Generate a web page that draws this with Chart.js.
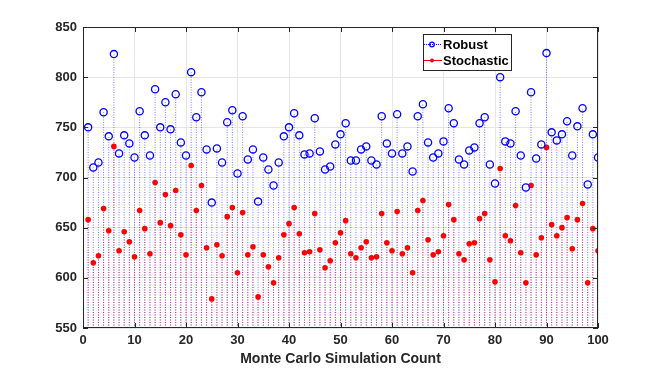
<!DOCTYPE html>
<html>
<head>
<meta charset="utf-8">
<script src="https://cdn.jsdelivr.net/npm/chart.js@4"></script>
<style>
  html, body { margin: 0; padding: 0; background: #fff; }
  #wrap { width: 654px; height: 373px; }
</style>
</head>
<body>
<div id="wrap"><canvas id="stemChart" width="654" height="373"></canvas></div>
<script>
"use strict"

// simulation runs 1..100
const runs = Array.from({ length: 100 }, (_, i) => i + 1);

const robust = [
  750, 710, 715, 765, 741, 823, 724, 742, 734, 720,
  766, 742, 722, 788, 750, 775, 748, 783, 735, 722,
  805, 760, 785, 728, 675, 729, 715, 755, 767, 704,
  761, 718, 728, 676, 720, 708, 692, 715, 741, 750,
  764, 742, 723, 724, 759, 726, 708, 711, 733, 743,
  754, 717, 717, 728, 731, 717, 713, 761, 734, 724,
  763, 724, 731, 706, 761, 773, 735, 720, 724, 736,
  769, 754, 718, 713, 727, 730, 754, 760, 713, 694,
  800, 736, 734, 766, 722, 690, 785, 719, 733, 824,
  745, 737, 743, 756, 722, 751, 769, 693, 743, 720
];

const stochastic = [
  658, 615, 622, 669, 647, 731, 627, 646, 636, 621,
  667, 649, 624, 695, 655, 683, 652, 687, 643, 623,
  712, 667, 692, 630, 579, 633, 622, 661, 670, 605,
  665, 623, 631, 581, 623, 611, 595, 620, 643, 654,
  670, 644, 625, 626, 664, 628, 610, 617, 635, 645,
  657, 624, 620, 630, 636, 620, 621, 664, 635, 627,
  666, 624, 630, 605, 667, 677, 638, 623, 626, 642,
  673, 658, 624, 618, 634, 635, 659, 664, 618, 596,
  709, 642, 637, 672, 625, 595, 692, 623, 640, 730,
  653, 642, 650, 660, 629, 658, 674, 595, 649, 627
];

const yTicks = [550, 600, 650, 700, 750, 800, 850];
const xTicks = [0, 10, 20, 30, 40, 50, 60, 70, 80, 90, 100];
const baseValue = 550;

const BLUE = '#0000ff';
const RED = '#ff0000';
const FONT = '"Liberation Sans", Arial, sans-serif';

// stems: base -> value, then a gap
function stemData(values) {
  const out = [];
  values.forEach((v, i) => {
    out.push({ x: runs[i], y: baseValue });
    out.push({ x: runs[i], y: v });
    out.push({ x: runs[i], y: null });
  });
  return out;
}

function pointData(values) {
  return values.map((v, i) => ({ x: runs[i], y: v }));
}

// frame, inward ticks and legend box
const framePlugin = {
  id: 'frame',
  afterDraw(chart) {
    const { ctx, chartArea: a, scales } = chart;
    ctx.save();
    ctx.strokeStyle = '#262626';
    ctx.lineWidth = 1;
    ctx.strokeRect(a.left + 0.5, a.top + 0.5, a.right - a.left - 1, a.bottom - a.top - 1);
    ctx.beginPath();
    xTicks.forEach(t => {
      const px = Math.round(scales.x.getPixelForValue(t)) + 0.5;
      ctx.moveTo(px, a.bottom); ctx.lineTo(px, a.bottom - 5);
      ctx.moveTo(px, a.top); ctx.lineTo(px, a.top + 5);
    });
    yTicks.forEach(t => {
      const py = Math.round(scales.y.getPixelForValue(t)) + 0.5;
      ctx.moveTo(a.left, py); ctx.lineTo(a.left + 5, py);
      ctx.moveTo(a.right, py); ctx.lineTo(a.right - 5, py);
    });
    ctx.stroke();

    // legend
    const bx = 423, by = 34, bw = 88, bh = 36;
    ctx.fillStyle = '#fff';
    ctx.fillRect(bx, by, bw, bh);
    ctx.strokeStyle = '#262626';
    ctx.strokeRect(bx + 0.5, by + 0.5, bw, bh);

    ctx.font = 'bold 13px ' + FONT;
    ctx.textBaseline = 'middle';
    ctx.fillStyle = '#000';

    let y = by + 10.5;
    ctx.strokeStyle = BLUE;
    ctx.setLineDash([1, 1]);
    ctx.beginPath(); ctx.moveTo(bx + 1, y); ctx.lineTo(bx + 19, y); ctx.stroke();
    ctx.setLineDash([]);
    ctx.lineWidth = 1.3;
    ctx.beginPath(); ctx.arc(bx + 9, y, 2.3, 0, Math.PI * 2); ctx.stroke();
    ctx.fillText('Robust', bx + 20, y + 0.5);

    y = by + 26.5;
    ctx.lineWidth = 1;
    ctx.strokeStyle = RED;
    ctx.beginPath(); ctx.moveTo(bx + 1, y); ctx.lineTo(bx + 19, y); ctx.stroke();
    ctx.fillStyle = RED;
    ctx.beginPath(); ctx.arc(bx + 9, y, 2, 0, Math.PI * 2); ctx.fill();
    ctx.fillStyle = '#000';
    ctx.fillText('Stochastic', bx + 20, y + 0.5);
    ctx.restore();
  }
};

document.addEventListener("DOMContentLoaded", () => {
  drawStemChart();
});

function drawStemChart() {
  const options = {
    type: 'scatter',
    data: {
      datasets: [
        {
          label: 'Robust',
          data: pointData(robust),
          showLine: false,
          pointStyle: 'circle',
          pointRadius: 3.6,
          pointBorderWidth: 1.3,
          pointBorderColor: BLUE,
          pointBackgroundColor: 'rgba(0,0,0,0)'
        },
        {
          label: 'Stochastic',
          data: pointData(stochastic),
          showLine: false,
          pointStyle: 'circle',
          pointRadius: 2.8,
          pointBorderWidth: 0,
          pointBackgroundColor: RED
        },
        {
          label: 'stochastic stems',
          type: 'line',
          data: stemData(stochastic),
          borderColor: 'rgba(230,0,60,0.6)',
          borderWidth: 1,
          borderDash: [1, 1.5],
          pointRadius: 0,
          spanGaps: false,
          fill: false
        },
        {
          label: 'robust stems',
          type: 'line',
          data: stemData(robust),
          borderColor: 'rgba(0,0,255,0.5)',
          borderWidth: 1,
          borderDash: [1, 1.5],
          pointRadius: 0,
          spanGaps: false,
          fill: false
        }
      ]
    },
    options: {
      responsive: false,
      animation: false,
      layout: { padding: { left: 43, right: 56, top: 27, bottom: 4 } },
      plugins: {
        legend: { display: false },
        tooltip: { enabled: false }
      },
      scales: {
        x: {
          type: 'linear',
          min: 0,
          max: 100,
          afterBuildTicks: s => { s.ticks = xTicks.map(v => ({ value: v })); },
          afterFit: s => { s.height = 41; },
          grid: { color: '#e6e6e6', drawTicks: false },
          border: { display: false },
          ticks: { padding: 5, color: '#262626', font: { family: FONT, size: 13, weight: 'bold' } },
          title: {
            display: true,
            text: 'Monte Carlo Simulation Count',
            color: '#262626',
            padding: { top: 0, bottom: 1 },
            font: { family: FONT, size: 14, weight: 'bold' }
          }
        },
        y: {
          type: 'linear',
          min: 550,
          max: 850,
          afterBuildTicks: s => { s.ticks = yTicks.map(v => ({ value: v })); },
          afterFit: s => { s.width = 40; },
          grid: { color: '#e6e6e6', drawTicks: false },
          border: { display: false },
          ticks: { padding: 6, color: '#262626', font: { family: FONT, size: 13, weight: 'bold' } }
        }
      }
    },
    plugins: [framePlugin]
  };
  const ctx = document.getElementById('stemChart');
  new Chart(ctx, options);
}
</script>
</body>
</html>
